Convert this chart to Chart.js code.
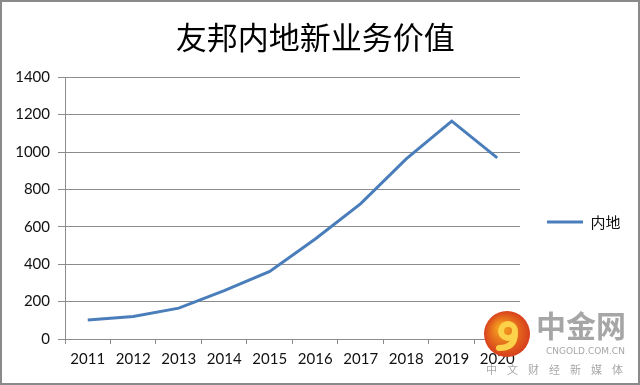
<!DOCTYPE html>
<html>
<head>
<meta charset="utf-8">
<script src="https://cdn.jsdelivr.net/npm/chart.js@4"></script>
<style>
  html, body { margin: 0; padding: 0; background: #fff; }
  #wrap { width: 640px; height: 385px; }
</style>
</head>
<body>
<div id="wrap"><canvas id="chart"></canvas></div>
<script>
const years = ["2011", "2012", "2013", "2014", "2015", "2016", "2017", "2018", "2019", "2020"];
const inland = [102, 120, 165, 259, 361, 535, 724, 963, 1165, 969];
const seriesName = "内地";
const chartTitle = "友邦内地新业务价值";

const gridColor = "#8c8c8c";
const lineColor = "#4a7ebb";
const numFont = "Lato, 'Liberation Sans', sans-serif";
const cjkFont = "'Noto Sans CJK SC', sans-serif";

// frame round the picture and the site mark in the corner
const framePlugin = {
  id: "frame",
  afterLayout(chart) {
    // legend sits a little below the middle of the plot
    chart.legend.top += 14;
    chart.legend.bottom += 14;
  },
  afterDraw(chart) {
    const ctx = chart.ctx;
    ctx.save();
    // watermark
    const cx = 507, cy = 334;
    const g = ctx.createRadialGradient(cx - 6, cy - 6, 4, cx, cy, 24);
    g.addColorStop(0, "#f39a1e");
    g.addColorStop(1, "#d63a1c");
    ctx.fillStyle = g;
    ctx.beginPath();
    ctx.arc(cx, cy, 23, 0, Math.PI * 2);
    ctx.fill();
    ctx.strokeStyle = "#fbd24a";
    ctx.lineWidth = 6;
    ctx.lineCap = "round";
    ctx.beginPath();
    ctx.arc(cx + 1, cy - 3, 7, 0.2, Math.PI * 2.1);
    ctx.stroke();
    ctx.beginPath();
    ctx.moveTo(cx + 8, cy - 1);
    ctx.quadraticCurveTo(cx + 8, cy + 14, cx - 8, cy + 14);
    ctx.stroke();
    ctx.fillStyle = "rgba(150,150,150,0.85)";
    ctx.font = "bold 30px " + cjkFont;
    ctx.textAlign = "left";
    ctx.textBaseline = "middle";
    ctx.fillText("中金网", 536, 326);
    ctx.font = "9px 'DejaVu Sans', sans-serif";
    ctx.fillText("CNGOLD.COM.CN", 546, 352);
    ctx.font = "11px " + cjkFont;
    const sub = "中文财经新媒体";
    for (let i = 0; i < sub.length; i++) {
      ctx.fillText(sub[i], 486 + i * 21, 370);
    }
    // border
    ctx.strokeStyle = "#8a8a8a";
    ctx.lineWidth = 2;
    ctx.strokeRect(1, 1, 638, 383);
    ctx.restore();
  },
};

new Chart(document.getElementById("chart"), {
  type: "line",
  data: {
    labels: years,
    datasets: [
      {
        label: seriesName,
        data: inland,
        borderColor: lineColor,
        backgroundColor: lineColor,
        borderWidth: 3,
        pointRadius: 0,
        tension: 0,
        fill: false,
        pointStyle: "line",
      },
    ],
  },
  options: {
    responsive: true,
    maintainAspectRatio: false,
    animation: false,
    layout: { padding: { right: 9.5 } },
    plugins: {
      title: {
        display: true,
        text: chartTitle,
        color: "#000",
        font: { family: cjkFont, size: 31, weight: "normal" },
        padding: { top: 19, bottom: 21 },
      },
      legend: {
        position: "right",
        fullSize: false,
        labels: {
          usePointStyle: true,
          pointStyleWidth: 36,
          padding: 27,
          color: "#111",
          font: { family: cjkFont, size: 15 },
        },
      },
      tooltip: { enabled: false },
    },
    scales: {
      x: {
        offset: true,
        afterFit(scale) {
          scale.height = 46;
        },
        grid: {
          offset: true,
          drawOnChartArea: false,
          drawTicks: true,
          tickLength: 5,
          color: gridColor,
        },
        border: { color: gridColor },
        ticks: {
          padding: 6,
          color: "#111",
          font: { family: numFont, size: 15 },
          maxRotation: 0,
        },
      },
      y: {
        min: 0,
        max: 1400,
        afterFit(scale) {
          scale.width = 65;
        },
        grid: {
          color: gridColor,
          tickLength: 7,
        },
        border: { color: gridColor },
        ticks: {
          stepSize: 200,
          padding: 8,
          color: "#111",
          font: { family: numFont, size: 15 },
          callback: (v) => String(v),
        },
      },
    },
  },
  plugins: [framePlugin],
});
</script>
</body>
</html>
